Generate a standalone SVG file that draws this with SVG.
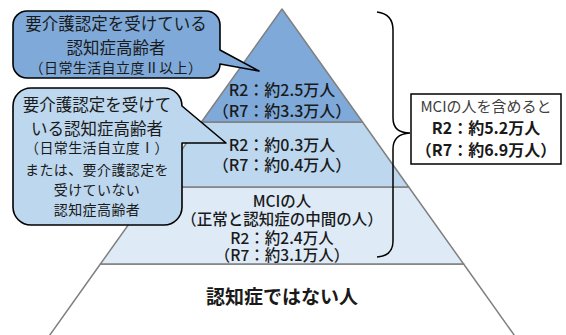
<svg xmlns="http://www.w3.org/2000/svg" width="566" height="335" viewBox="0 0 566 335">
<style>
text{font-family:"Noto Sans CJK JP","Noto Sans",sans-serif;text-anchor:middle;fill:#1a1a1a}
.layer{stroke:#808080;stroke-width:1.5;stroke-linejoin:round}
.call{stroke:#000;stroke-width:1.6;stroke-linejoin:round}
.big{font-size:16.5px}
.sm{font-size:14px;letter-spacing:0.4px}
.py{font-size:16px;font-weight:500}
.mci{font-size:15.5px;font-weight:500}
.b{font-weight:bold}
</style>
<g id="pyramid">
<polygon id="layer-none" class="layer" fill="#ffffff" points="100.4,264 463.6,264 517.7,340 46.3,340"/>
<polygon id="layer-mci" class="layer" fill="#deebf7" points="155.3,187 408.7,187 463.6,264 100.4,264"/>
<polygon id="layer-1" class="layer" fill="#bdd7ee" points="201.5,122 362.5,122 408.7,187 155.3,187"/>
<polygon id="layer-2" class="layer" fill="#7ea9d9" points="282,9 362.5,122 201.5,122"/>
</g>
<g id="node-top">
<text class="py" x="282" y="96">R2：約2.5万人</text>
<text class="py" x="282" y="117">（R7：約3.3万人）</text>
</g>
<g id="node-second">
<text class="py" x="282" y="151">R2：約0.3万人</text>
<text class="py" x="282" y="171">（R7：約0.4万人）</text>
</g>
<g id="node-mci">
<text class="mci" x="282" y="207">MCIの人</text>
<text class="mci" x="282" y="225">（正常と認知症の中間の人）</text>
<text class="mci" x="282" y="244">R2：約2.4万人</text>
<text class="mci" x="282" y="261">（R7：約3.1万人）</text>
</g>
<g id="node-none">
<text x="282" y="304" class="b" style="font-size:19px">認知症ではない人</text>
</g>
<g id="connectors">
<path d="M377,12 Q393,14 393,30 V118 Q393,133 410,133 Q393,134 393,149 V241 Q393,256 377,257" fill="none" stroke="#000" stroke-width="1.5"/>
</g>
<g id="callout-1">
<path class="call" fill="#7ea9d9" d="M27,11 H206 A14,14 0 0 1 220,25 V50 L259,71 L220,64 A14,14 0 0 1 206,78 H27 A14,14 0 0 1 13,64 V25 A14,14 0 0 1 27,11 Z"/>
<text class="big" x="116" y="30">要介護認定を受けている</text>
<text class="big" x="116" y="54">認知症高齢者</text>
<text class="sm" x="116" y="73">（日常生活自立度Ⅱ以上）</text>
</g>
<g id="callout-2">
<path class="call" fill="#bdd7ee" d="M31,88 H164 A18,18 0 0 1 182,106 L226,143 L182,143 V207 A18,18 0 0 1 164,225 H31 A18,18 0 0 1 13,207 V106 A18,18 0 0 1 31,88 Z"/>
<text class="big" x="97" y="111">要介護認定を受けて</text>
<text class="big" x="97" y="135">いる認知症高齢者</text>
<text class="sm" x="97" y="153">（日常生活自立度Ⅰ）</text>
<text class="sm" x="97" y="175">または、要介護認定を</text>
<text class="sm" x="97" y="195">受けていない</text>
<text class="sm" x="97" y="215">認知症高齢者</text>
</g>
<g id="node-total">
<rect x="411" y="94" width="150" height="70" fill="#fff" stroke="#000" stroke-width="1.5"/>
<text x="486" y="112" style="font-size:15px;fill:#404040">MCIの人を含めると</text>
<text x="486" y="134" class="b" style="font-size:16px">R2：約5.2万人</text>
<text x="486" y="156" class="b" style="font-size:16px">（R7：約6.9万人）</text>
</g>
</svg>
